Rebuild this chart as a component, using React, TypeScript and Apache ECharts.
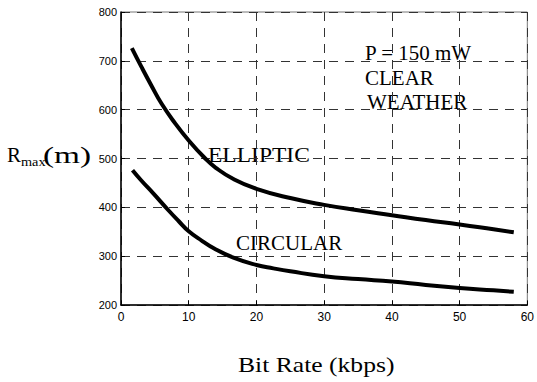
import React, { useEffect, useRef } from "react";
import * as echarts from "echarts";

const xTicks = [0, 10, 20, 30, 40, 50, 60];
const yTicks = [200, 300, 400, 500, 600, 700, 800];

const ellipticX = [1.6, 3, 4.5, 6, 8, 10, 12.3, 14, 16.6, 20, 25, 30, 35, 40, 45, 50, 55, 58];
const ellipticY = [726, 688, 649, 612, 572, 537, 502, 481, 458, 438, 419, 405, 394, 384, 374, 365, 355, 349];

const circularX = [1.7, 3, 4.8, 7, 8.5, 10, 12, 13.7, 16.6, 20, 22.5, 25, 30, 35, 40, 45, 50, 55, 58];
const circularY = [476, 455, 428, 394, 372, 351, 331, 316, 297, 282, 275, 269, 259, 253, 248, 241, 235, 230, 227];

const annotations = ["P = 150 mW", "CLEAR", "WEATHER"];
const curveLabels = ["ELLIPTIC", "CIRCULAR"];
const xTitle = "Bit Rate (kbps)";

const serif = "Liberation Serif";
const sans = "Liberation Sans";

export default function App() {
  const ref = useRef<HTMLDivElement>(null);
  useEffect(() => {
    if (!ref.current) return;
    const chart = echarts.init(ref.current, null, { renderer: "svg" });
    const pairs = (xs: number[], ys: number[]) => xs.map((x, i) => [x, ys[i]]);
    const txt = (text: string, x: number, y: number, size: number, sx = 1) => ({
      type: "text",
      x,
      y,
      scaleX: sx,
      style: {
        text,
        x: 0,
        y: 0,
        fill: "#000",
        fontSize: size,
        fontFamily: serif,
        fontWeight: "normal",
        align: "left",
        verticalAlign: "middle",
      },
    });
    chart.setOption({
      animation: false,
      backgroundColor: "#fff",
      grid: {
        left: 121,
        right: 7,
        top: 12,
        bottom: 77,
        show: true,
        borderColor: "#777",
        borderWidth: 1,
      },
      xAxis: {
        type: "value",
        min: xTicks[0],
        max: xTicks[xTicks.length - 1],
        interval: 10,
        axisLine: { show: true, onZero: false, lineStyle: { color: "#000", width: 1.5 } },
        axisTick: { show: true, inside: true, length: 4, lineStyle: { color: "#000" } },
        axisLabel: { color: "#000", fontFamily: sans, fontSize: 12, margin: 6 },
        splitLine: { show: true, lineStyle: { color: "#333", type: [9, 7], width: 1 } },
      },
      yAxis: {
        type: "value",
        min: yTicks[0],
        max: yTicks[yTicks.length - 1],
        interval: 100,
        axisLine: { show: true, onZero: false, lineStyle: { color: "#000", width: 1.5 } },
        axisTick: { show: true, inside: true, length: 4, lineStyle: { color: "#000" } },
        axisLabel: { color: "#000", fontFamily: sans, fontSize: 11, margin: 4 },
        splitLine: { show: true, lineStyle: { color: "#333", type: [9, 7], width: 1 } },
      },
      series: [
        {
          name: "ELLIPTIC",
          type: "line",
          data: pairs(ellipticX, ellipticY),
          smooth: 0.5,
          showSymbol: false,
          lineStyle: { color: "#000", width: 4 },
        },
        {
          name: "CIRCULAR",
          type: "line",
          data: pairs(circularX, circularY),
          smooth: 0.5,
          showSymbol: false,
          lineStyle: { color: "#000", width: 4 },
        },
      ],
      graphic: [
        txt(curveLabels[0], 208, 155, 21, 1.12),
        txt(curveLabels[1], 236, 243, 21, 1.0),
        txt(annotations[0], 365, 53, 21, 1.0),
        txt(annotations[1], 365, 78, 21, 1.0),
        txt(annotations[2], 367, 102, 21, 1.0),
        txt("R", 7, 155, 21, 1.0),
        txt("max", 21, 162, 13, 1.1),
        txt("(m)", 43, 155, 23, 1.45),
        txt(xTitle, 238, 365, 21, 1.22),
      ],
    });
    return () => chart.dispose();
  }, []);
  return (
    <div
      ref={ref}
      style={{ position: "fixed", left: 0, top: 0, width: 537, height: 382 }}
    />
  );
}
